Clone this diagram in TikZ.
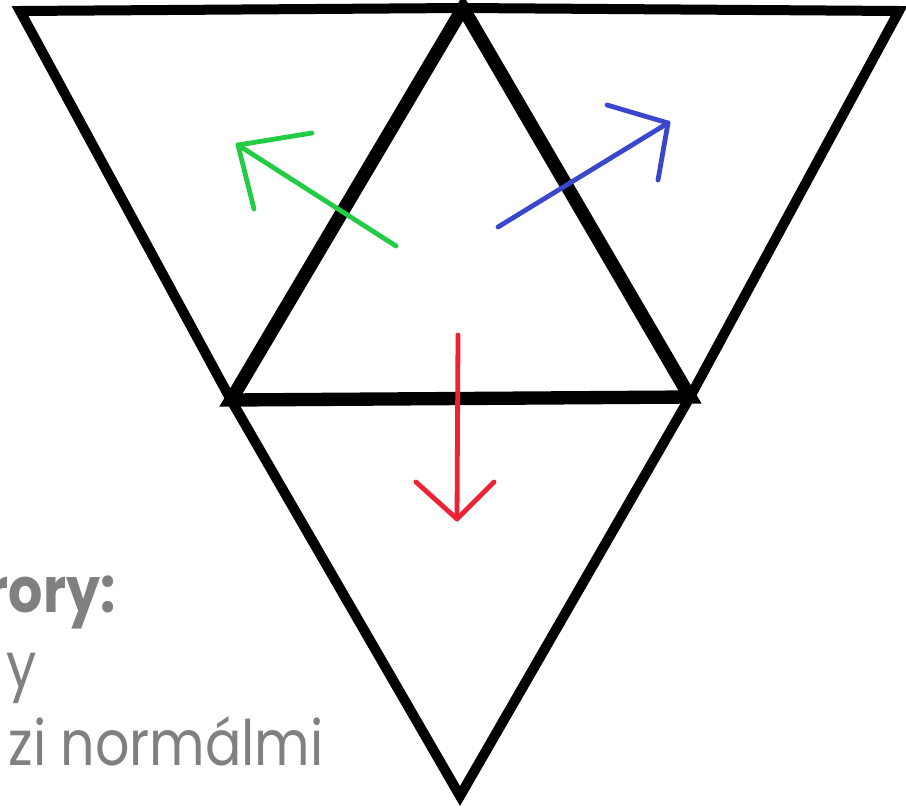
\documentclass[tikz,border=0pt]{standalone}
\usepackage{fontspec}
\usepackage{graphicx}
\setmainfont{Poppins}
\definecolor{txtgray}{HTML}{808080}
\definecolor{ngreen}{HTML}{22CC44}
\definecolor{nblue}{HTML}{3A46CC}
\definecolor{nred}{HTML}{EE2233}
\tikzset{
  outer/.style={line width=7.5pt, line join=miter, black},
  inner/.style={line width=10pt, line join=miter, black},
  normal/.style={line width=3.6pt, line cap=round, line join=round},
  lbl/.style={inner sep=0pt, text=txtgray, font=\fontsize{47}{57}\selectfont}
}
\begin{document}
\begin{tikzpicture}[x=0.75pt,y=-0.75pt]
\useasboundingbox (0,0) rectangle (906,811);
\coordinate (TL) at (20,11);
\coordinate (T) at (463,8);
\coordinate (TR) at (899,11);
\coordinate (L) at (231,400);
\coordinate (R) at (690,397);
\coordinate (B) at (460,796);
% outer triangles
\draw[outer] (T) -- (TL) -- (L);
\draw[outer] (T) -- (TR) -- (R);
\draw[outer] (L) -- (B) -- (R);
% inner triangle
\draw[inner] (L) -- (T) -- (R) -- cycle;
% normals
\coordinate (g0) at (396,246);
\coordinate (g1) at (238,145);
\coordinate (ga) at (312,133);
\coordinate (gb) at (254,209);
\draw[normal, ngreen] (g0) -- (g1);
\draw[normal, ngreen] (ga) -- (g1) -- (gb);
\coordinate (b0) at (498,227);
\coordinate (b1) at (668,123);
\coordinate (ba) at (607,105);
\coordinate (bb) at (658,180);
\draw[normal, nblue] (b0) -- (b1);
\draw[normal, nblue] (ba) -- (b1) -- (bb);
\coordinate (r0) at (458,335);
\coordinate (r1) at (457,519);
\coordinate (ra) at (416,482);
\coordinate (rb) at (494,482);
\draw[normal, nred] (r0) -- (r1);
\draw[normal, nred] (ra) -- (r1) -- (rb);
% text
\node[lbl, anchor=base east] (t1) at (116,612) {\scalebox{0.86}[1]{\bfseries rory:}};
\node[lbl, anchor=base east] (t2) at (37,687) {\scalebox{0.86}[1]{y}};
\node[lbl, anchor=base east] (t3) at (324,765) {\scalebox{0.86}[1]{zi normálmi}};
\end{tikzpicture}
\end{document}
